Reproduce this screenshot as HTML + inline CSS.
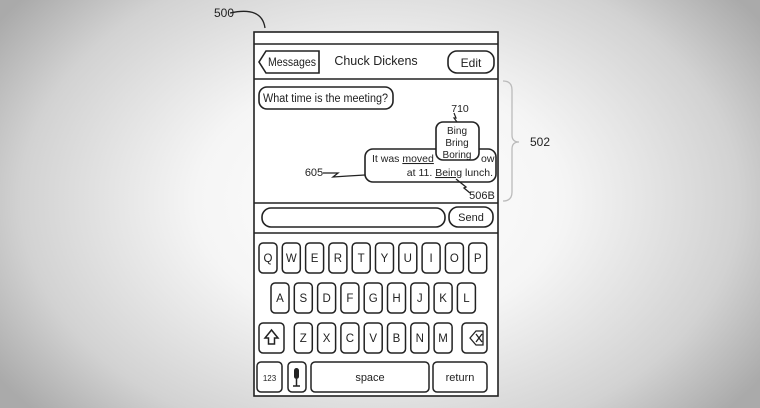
<!DOCTYPE html>
<html><head><style>
html,body{margin:0;padding:0;width:760px;height:408px;overflow:hidden;
background:radial-gradient(ellipse 460px 320px at 380px 200px,#ffffff 0%,#f5f5f5 40%,#d2d2d2 78%,#aaaaaa 100%);}
svg{position:absolute;left:0;top:0}
text{font-family:"Liberation Sans",sans-serif;fill:#222}
</style></head><body>
<svg width="760" height="408" viewBox="0 0 760 408">
<g fill="none" stroke="#222" stroke-width="1.6">
<rect x="254" y="32" width="244" height="364" fill="#fff"/>
<line x1="254" y1="44" x2="498" y2="44"/>
<line x1="254" y1="79" x2="498" y2="79"/>
<line x1="254" y1="203" x2="498" y2="203"/>
<line x1="254" y1="233" x2="498" y2="233"/>
<path d="M266 51 H319 V73 H266 L259 62 Z"/>
<rect x="448" y="51" width="46" height="22" rx="9"/>
<rect x="259" y="87" width="134" height="22" rx="8"/>
<rect x="365" y="149" width="131" height="33" rx="8"/>
<rect x="436" y="122" width="43" height="38" rx="7" fill="#fff"/>
<rect x="262" y="208" width="183" height="19" rx="9"/>
<rect x="449" y="207" width="44" height="20" rx="9"/>
<path d="M230 13 Q262 6 265 28" stroke-width="1.3"/>
<path d="M323 173 L338 173 L333 177 L348 176 L365 175" stroke-width="1.3"/>
<path d="M454 113 L456 118 L454 118 L457 122" stroke-width="1.2"/>
<path d="M470 193 L464 188 L466 187 L456 179" stroke-width="1.3"/>
<path d="M503 81 Q512 81 512 90 V135 Q512 142 519 142 Q512 142 512 149 V192 Q512 201 503 201" stroke="#bbb" stroke-width="1.3"/>
</g>
<g font-size="12">
<text x="224" y="17" text-anchor="middle">500</text>
<text x="268" y="66" font-size="11.5" textLength="48" lengthAdjust="spacingAndGlyphs">Messages</text>
<text x="376" y="65" text-anchor="middle" font-size="12.5">Chuck Dickens</text>
<text x="471" y="67" text-anchor="middle">Edit</text>
<text x="263" y="102" font-size="11.5" textLength="125" lengthAdjust="spacingAndGlyphs">What time is the meeting?</text>
<text x="460" y="112" text-anchor="middle" font-size="10.5">710</text>
<text x="540" y="146" text-anchor="middle">502</text>
<text x="314" y="176" text-anchor="middle" font-size="11">605</text>
<text x="482" y="199" text-anchor="middle" font-size="11">506B</text>
<text x="471" y="221" text-anchor="middle" font-size="11">Send</text>
</g>
<g font-size="10.5">
<text x="372" y="162">It was <tspan text-decoration="underline">moved</tspan></text>
<text x="481" y="162">ow</text>
<text x="493" y="176" text-anchor="end">at 11. <tspan text-decoration="underline">Being</tspan> lunch.</text>
<text x="457" y="134" text-anchor="middle" font-size="10">Bing</text>
<text x="457" y="146" text-anchor="middle" font-size="10">Bring</text>
<text x="457" y="158" text-anchor="middle" font-size="10">Boring</text>
</g>
<g fill="none" stroke="#222" stroke-width="1.5">
<rect x="259" y="243" width="18" height="30" rx="4"/><rect x="282.3" y="243" width="18" height="30" rx="4"/><rect x="305.6" y="243" width="18" height="30" rx="4"/><rect x="328.9" y="243" width="18" height="30" rx="4"/><rect x="352.2" y="243" width="18" height="30" rx="4"/><rect x="375.5" y="243" width="18" height="30" rx="4"/><rect x="398.8" y="243" width="18" height="30" rx="4"/><rect x="422.1" y="243" width="18" height="30" rx="4"/><rect x="445.4" y="243" width="18" height="30" rx="4"/><rect x="468.7" y="243" width="18" height="30" rx="4"/>
<rect x="271" y="283" width="18" height="30" rx="4"/><rect x="294.3" y="283" width="18" height="30" rx="4"/><rect x="317.6" y="283" width="18" height="30" rx="4"/><rect x="340.9" y="283" width="18" height="30" rx="4"/><rect x="364.2" y="283" width="18" height="30" rx="4"/><rect x="387.5" y="283" width="18" height="30" rx="4"/><rect x="410.8" y="283" width="18" height="30" rx="4"/><rect x="434.1" y="283" width="18" height="30" rx="4"/><rect x="457.4" y="283" width="18" height="30" rx="4"/>
<rect x="259" y="323" width="25" height="30" rx="4"/>
<rect x="294.3" y="323" width="18" height="30" rx="4"/><rect x="317.6" y="323" width="18" height="30" rx="4"/><rect x="340.9" y="323" width="18" height="30" rx="4"/><rect x="364.2" y="323" width="18" height="30" rx="4"/><rect x="387.5" y="323" width="18" height="30" rx="4"/><rect x="410.8" y="323" width="18" height="30" rx="4"/><rect x="434.1" y="323" width="18" height="30" rx="4"/>
<rect x="462" y="323" width="25" height="30" rx="4"/>
<rect x="257" y="362" width="25" height="30" rx="4"/>
<rect x="288" y="362" width="18" height="30" rx="4"/>
<rect x="311" y="362" width="118" height="30" rx="4"/>
<rect x="433" y="362" width="54" height="30" rx="4"/>
<path d="M271.5 330 L265 338 H268.5 V344 H274.5 V338 H278 Z"/>
<path d="M470 338 L476 331 H483 V345 H476 Z M476 334 L482 342 M482 334 L476 342" stroke-width="1.3"/>
</g>
<rect x="294" y="368" width="5" height="11" rx="2.5" fill="#222"/>
<path d="M296.5 379 V386 M293 386 H300" stroke="#222" stroke-width="1.5"/>
<g font-size="11.5" text-anchor="middle">
<text x="268" y="262">Q</text><text x="291.3" y="262">W</text><text x="314.6" y="262">E</text><text x="337.9" y="262">R</text><text x="361.2" y="262">T</text><text x="384.5" y="262">Y</text><text x="407.8" y="262">U</text><text x="431.1" y="262">I</text><text x="454.4" y="262">O</text><text x="477.7" y="262">P</text>
<text x="280" y="302">A</text><text x="303.3" y="302">S</text><text x="326.6" y="302">D</text><text x="349.9" y="302">F</text><text x="373.2" y="302">G</text><text x="396.5" y="302">H</text><text x="419.8" y="302">J</text><text x="443.1" y="302">K</text><text x="466.4" y="302">L</text>
<text x="303.3" y="342">Z</text><text x="326.6" y="342">X</text><text x="349.9" y="342">C</text><text x="373.2" y="342">V</text><text x="396.5" y="342">B</text><text x="419.8" y="342">N</text><text x="443.1" y="342">M</text>
<text x="269.5" y="381" font-size="8">123</text>
<text x="370" y="381" font-size="11">space</text>
<text x="460" y="381" font-size="11">return</text>
</g>
</svg>
</body></html>
